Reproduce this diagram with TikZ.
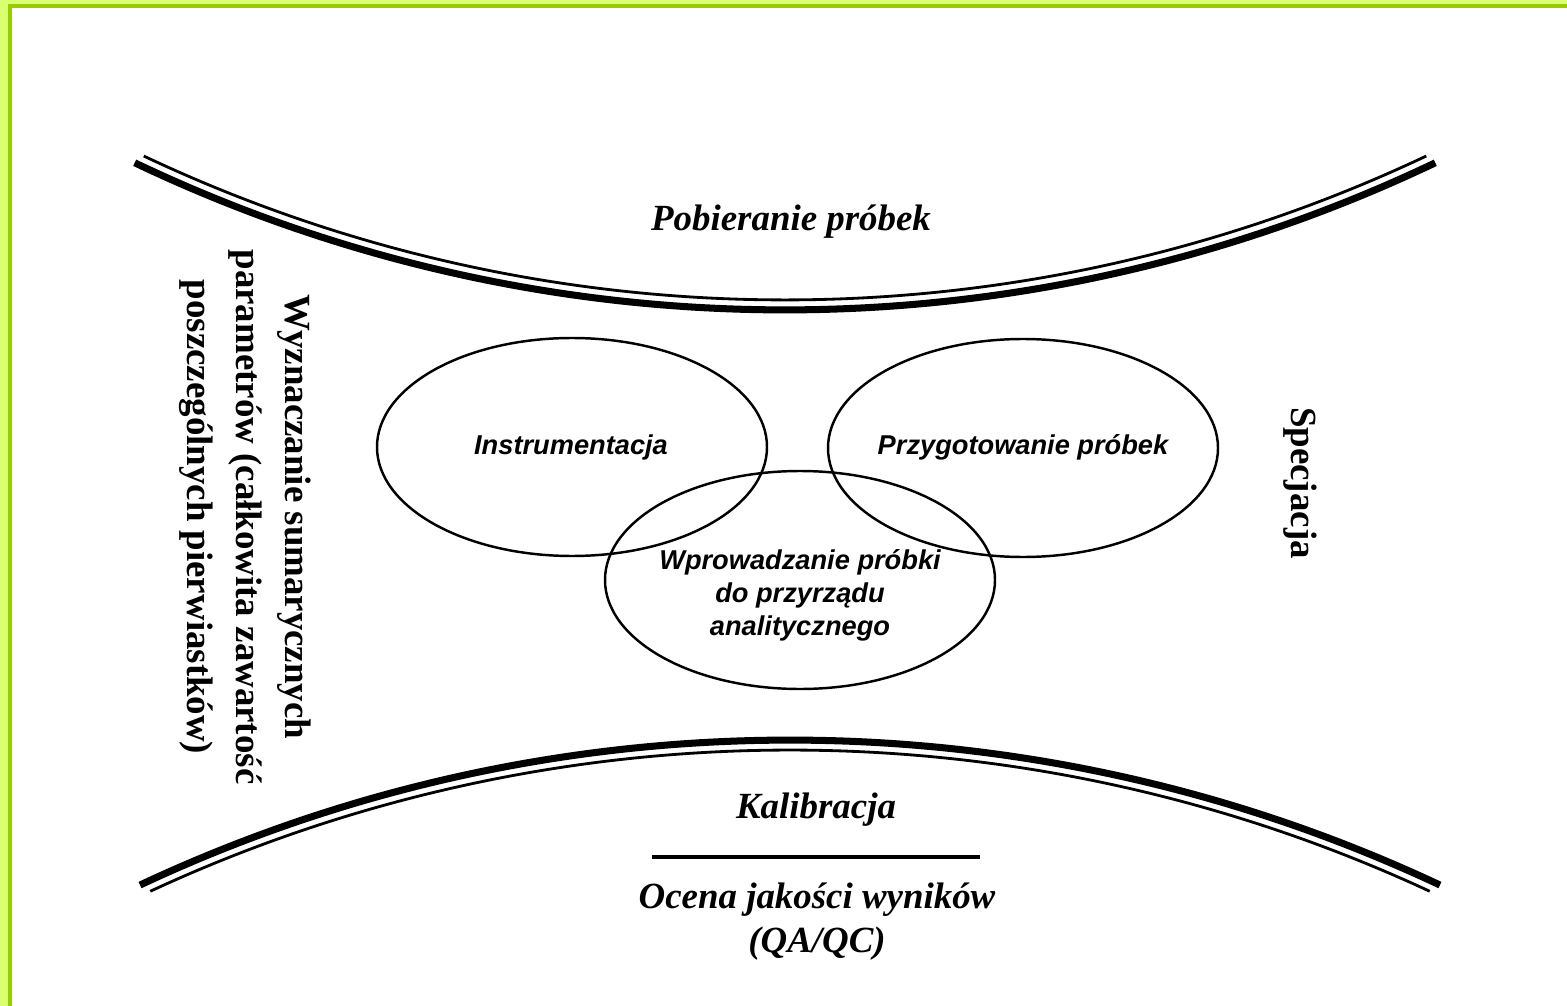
\documentclass[tikz,border=0pt]{standalone}
\usepackage{fontspec}
\setmainfont{Liberation Serif}
\setsansfont{Liberation Sans}
\definecolor{framedark}{HTML}{99CC00}
\definecolor{framelight}{HTML}{D9FF70}

\begin{document}
\begin{tikzpicture}[x=0.02cm, y=-0.02cm,
  thickarc/.style={line width=4pt},
  thinarc/.style={line width=1.6pt},
  oval/.style={line width=1.4pt},
  headtext/.style={font=\fontsize{21}{25}\selectfont\bfseries\itshape, align=center},
  sidetext/.style={font=\fontsize{21}{28}\selectfont\bfseries, align=center, rotate=-90},
  ovaltext/.style={font=\sffamily\bfseries\itshape\fontsize{15.5}{18.7}\selectfont, align=center}]
  \useasboundingbox (0,0) rectangle (1567,1006);
  \fill[white] (0,0) rectangle (1567,1006);
  \fill[framelight] (0,0) rectangle (1567,4);
  \fill[framelight] (0,0) rectangle (8,1006);
  \fill[framedark] (8,4) rectangle (1567,8);
  \fill[framedark] (8,4) rectangle (12,1006);
  \draw[thickarc] (785,-1200.6) ++(115.5:1510.6) arc[start angle=115.5, end angle=64.5, radius=1510.6];
  \draw[thinarc] (785,-1200.6) ++(115.3:1500.6) arc[start angle=115.3, end angle=64.7, radius=1500.6];
  \draw[thickarc] (790,2269.4) ++(244.85:1529.4) arc[start angle=244.85, end angle=295.15, radius=1529.4];
  \draw[thinarc] (790,2269.4) ++(245.1:1519.4) arc[start angle=245.1, end angle=294.9, radius=1519.4];
  \foreach \cx/\cy in {572/447, 1023/448, 800/580}
    \draw[oval] (\cx,\cy) ellipse [x radius=195, y radius=109];
  \node[headtext] (pobieranie) at (791,222) {Pobieranie próbek};
  \node[ovaltext] (instr) at (571,447) {Instrumentacja};
  \node[ovaltext] (przyg) at (1023,447) {Przygotowanie próbek};
  \node[ovaltext] (wprow) at (800,595) {Wprowadzanie próbki\\do przyrządu\\analitycznego};
  \node[sidetext] (wyznacz) at (245,517) {Wyznaczanie sumarycznych\\parametrów (całkowita zawartość\\poszczególnych pierwiastków)};
  \node[sidetext] (specjacja) at (1300,483) {Specjacja};
  \node[headtext] (kalibracja) at (816,810) {Kalibracja};
  \coordinate (rulel) at (652,857);
  \coordinate (ruler) at (980,857);
  \draw[line width=2pt] (rulel) -- (ruler);
  \node[headtext] (ocena) at (817,922) {Ocena jakości wyników\\(QA/QC)};
\end{tikzpicture}
\end{document}
